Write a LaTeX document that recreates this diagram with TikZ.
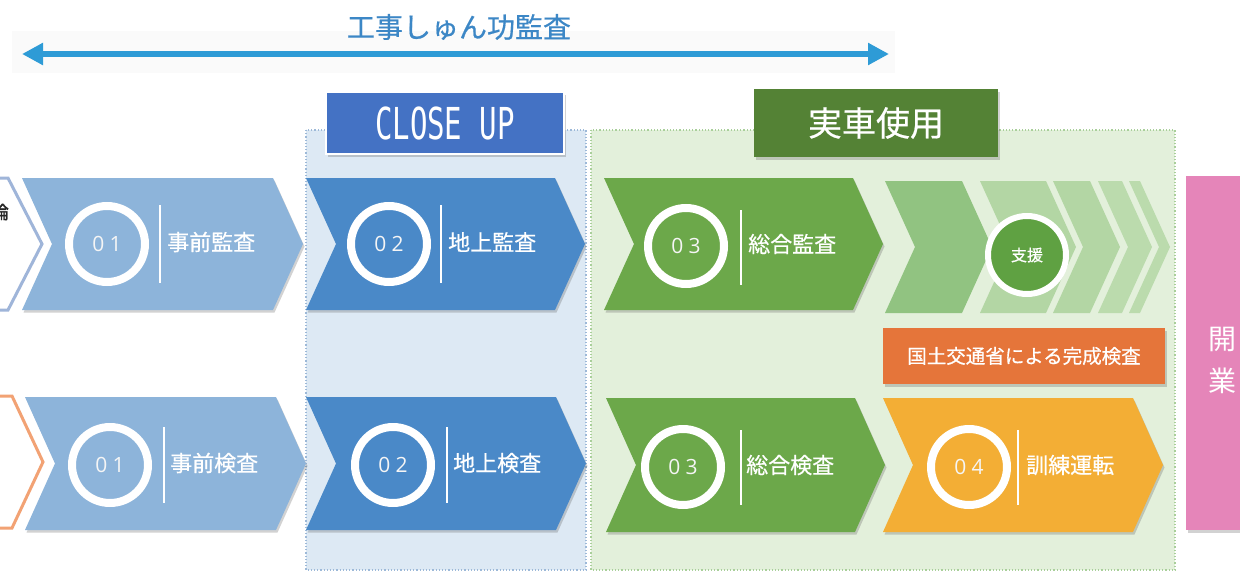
\documentclass[tikz,border=0pt]{standalone}
\usepackage{fontspec}
\setmainfont{Noto Sans CJK JP}
\newfontfamily\jp{Noto Sans CJK JP}
\newfontfamily\jpm[FakeBold=0.6]{Noto Sans CJK JP}
\newfontfamily\jpbold[FakeBold=2]{Noto Sans CJK JP}
\newfontfamily\numf[LetterSpace=25]{Open Sans}
\newfontfamily\cuf[FakeStretch=0.66]{DejaVu Sans Mono}
\usetikzlibrary{shadows,arrows.meta}
\definecolor{arrowblue}{HTML}{2E9BD6}
\definecolor{titleblue}{HTML}{3C87C6}
\definecolor{lblue}{HTML}{8DB4DA}
\definecolor{mblue}{HTML}{4A89C8}
\definecolor{cublue}{HTML}{4472C4}
\definecolor{regblue}{HTML}{DDE9F4}
\definecolor{regblueline}{HTML}{9DB9D8}
\definecolor{reggreen}{HTML}{E3F0DB}
\definecolor{reggreenline}{HTML}{A9CF9A}
\definecolor{dgreen}{HTML}{548235}
\definecolor{mgreen}{HTML}{6CA84A}
\definecolor{sgreenA}{HTML}{91C381}
\definecolor{sgreenB}{HTML}{B3D6A4}
\definecolor{sgreenC}{HTML}{BBDBAD}
\definecolor{circgreen}{HTML}{5FA142}
\definecolor{amber}{HTML}{F3AE35}
\definecolor{orangebox}{HTML}{E5753A}
\definecolor{pinkbox}{HTML}{E585B9}
\definecolor{outlineblue}{HTML}{9FB5D9}
\definecolor{outlineorange}{HTML}{F2A274}
\definecolor{bandgrey}{HTML}{FAFAFA}
\newcommand{\mychev}[6][]{\fill[#2,#1] (#3,#5) -- (#4,#5) -- ({#4+30},{(#5+#6)/2}) -- (#4,#6) -- (#3,#6) -- ({#3+30},{(#5+#6)/2}) -- cycle;}
\tikzset{
  shad/.style={drop shadow={shadow xshift=1.5pt, shadow yshift=-2.5pt, opacity=0.25, fill=black!70}},
  lab/.style={text=white, font=\jpm\fontsize{22}{24}\selectfont, anchor=west, inner sep=0pt},
  ring/.style={circle, draw=white, line width=8pt, minimum size=76pt, inner sep=0pt,
    text=white!92!gray, font=\numf\fontsize{21}{21}\selectfont},
  sep/.style={white, line width=1.5pt},
  hdr/.style={text=white, inner sep=0pt, draw=white, line width=2.5pt, shad}
}
\begin{document}
\begin{tikzpicture}[x=1pt,y=-1pt]
\useasboundingbox (0,0) rectangle (1240,573);
\fill[white] (0,0) rectangle (1240,573);
% faint band behind the arrow
\fill[bandgrey] (12,31) rectangle (895,73);
% title and double arrow
\node[text=titleblue, font=\jpm\fontsize{28}{30}\selectfont, inner sep=0pt] (title) at (459,27) {工事しゅん功監査};
\coordinate (al) at (22,54);
\coordinate (ar) at (889,54);
\draw[arrowblue, line width=5.5pt, {Triangle[length=21pt,width=21pt]}-{Triangle[length=21pt,width=21pt]}] (al) -- (ar);
% regions
\draw[fill=regblue, draw=regblueline, dotted, line width=1.2pt] (306,130) rectangle (586,570);
\draw[fill=reggreen, draw=reggreenline, dotted, line width=1.2pt] (591,130) rectangle (1175,570);
% header boxes
\node[hdr, fill=cublue, minimum width=238pt, minimum height=62pt, font=\cuf\fontsize{44}{44}\selectfont] (closeup) at (445,123) {CLOSE UP};
\node[hdr, draw=none, fill=dgreen, minimum width=244pt, minimum height=68pt, font=\jpm\fontsize{34}{36}\selectfont] (jissha) at (876,123) {実車使用};
% left outline chevrons
\draw[outlineblue, line width=3pt, line join=miter] (-20,178) -- (8,178) -- (42,244) -- (8,310) -- (-20,310);
\node[anchor=east, inner sep=0pt, font=\jpbold\fontsize{18}{18}\selectfont, text=black!85] (prev) at (9,212) {論};
\draw[outlineorange, line width=3pt, line join=miter] (-20,396) -- (12,396) -- (43,462) -- (12,528) -- (-20,528);
% row 1 chevrons
\mychev[shad]{lblue}{22}{273}{178}{310}
\mychev[shad]{mblue}{306}{555}{178}{310}
\mychev[shad]{mgreen}{604}{853}{178}{310}
% support chevrons
\mychev{sgreenA}{885}{962}{181}{313}
\mychev{sgreenB}{980}{1046}{181}{313}
\mychev{sgreenB}{1053}{1090}{181}{313}
\mychev{sgreenC}{1098}{1122}{181}{313}
\mychev{sgreenC}{1129}{1140}{181}{313}
% row 2 chevrons
\mychev[shad]{lblue}{25}{276}{397}{530}
\mychev[shad]{mblue}{306}{556}{397}{530}
\mychev[shad]{mgreen}{606}{855}{398}{532}
\mychev[shad]{amber}{883}{1133}{398}{532}
% row 1 contents
\node[ring] (n1a) at (107,244) {01};
\draw[sep] (160,205) -- (160,283);
\node[lab] (l1a) at (167,242) {事前監査};
\node[ring] (n2a) at (389,244) {02};
\draw[sep] (441,205) -- (441,283);
\node[lab] (l2a) at (448,242) {地上監査};
\node[ring] (n3a) at (686,246) {03};
\draw[sep] (741,210) -- (741,285);
\node[lab] (l3a) at (748,244) {総合監査};
\node[circle, fill=circgreen, draw=white, line width=6pt, minimum size=78pt, inner sep=0pt,
  text=white, font=\jpm\fontsize{16}{16}\selectfont] (shien) at (1027,255) {支援};
% row 2 contents
\node[ring] (n1b) at (110,465) {01};
\draw[sep] (164,427) -- (164,503);
\node[lab] (l1b) at (170,463) {事前検査};
\node[ring] (n2b) at (393,465) {02};
\draw[sep] (447,427) -- (447,503);
\node[lab] (l2b) at (453,463) {地上検査};
\node[ring] (n3b) at (683,467) {03};
\draw[sep] (741,430) -- (741,505);
\node[lab] (l3b) at (746,465) {総合検査};
\node[ring] (n4b) at (969,467) {04};
\draw[sep] (1018,430) -- (1018,505);
\node[lab] (l4b) at (1026,465) {訓練運転};
% orange box
\node[fill=orangebox, shad, minimum width=282pt, minimum height=56pt, inner sep=0pt,
  text=white, font=\jpm\fontsize{19.5}{20}\selectfont] (kansei) at (1024,356) {国土交通省による完成検査};
% pink box
\fill[pinkbox, shad] (1186,176) rectangle (1262,530);
\node[text=white, inner sep=0pt, font=\jp\fontsize{28}{30}\selectfont] (kai) at (1222,339) {開};
\node[text=white, inner sep=0pt, font=\jp\fontsize{28}{30}\selectfont] (gyo) at (1222,381) {業};
\end{tikzpicture}
\end{document}
